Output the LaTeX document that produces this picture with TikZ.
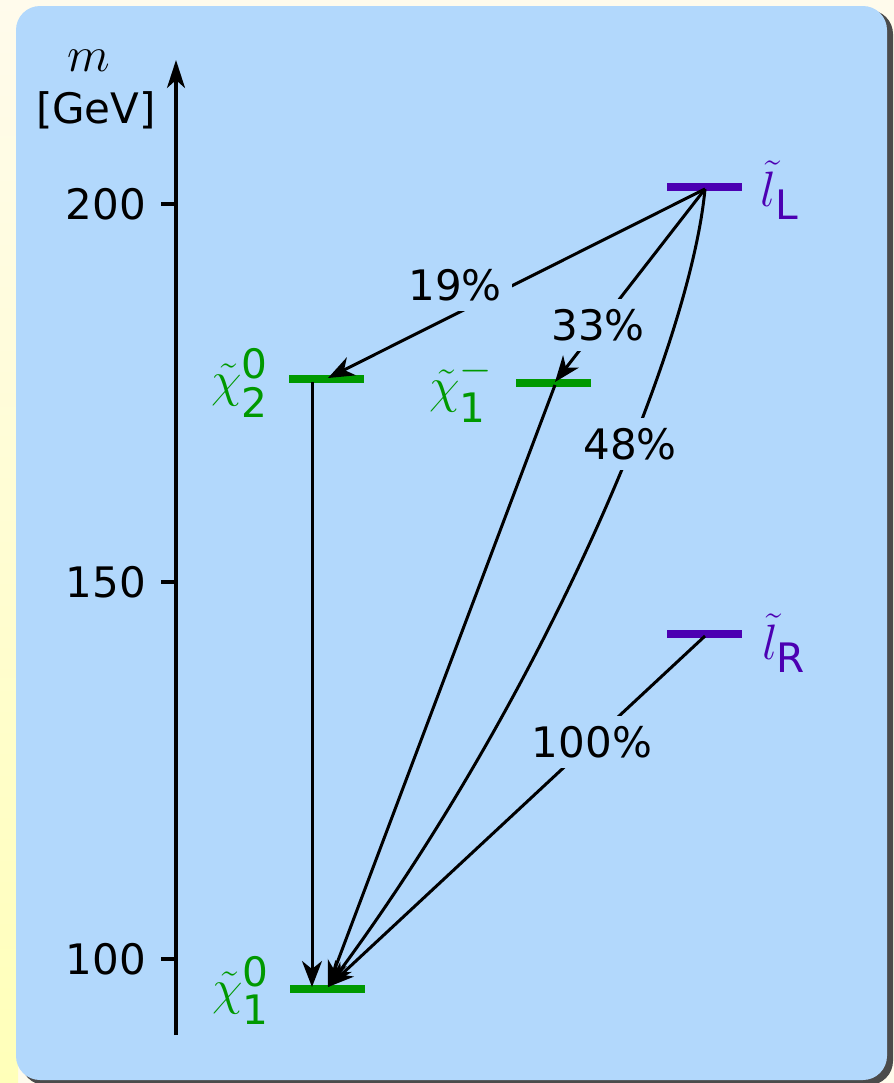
\documentclass[tikz,border=0pt]{standalone}
\usepackage{amsmath}
\usepackage{fontspec}
\setsansfont{DejaVu Sans}
\usetikzlibrary{arrows.meta}
\definecolor{bg}{RGB}{178,216,252}
\definecolor{page}{RGB}{255,251,236}
\definecolor{pageY}{RGB}{255,255,185}
\definecolor{lvgreen}{RGB}{0,153,0}
\definecolor{lvpurple}{RGB}{76,0,178}
\definecolor{shadowgray}{RGB}{75,75,75}
\begin{document}
\begin{tikzpicture}[x=0.5pt,y=-0.5pt,
  txt/.style={font=\sffamily\fontsize{21}{24}\selectfont, text=black},
  mth/.style={font=\fontsize{29}{34}\selectfont, inner sep=0pt},
  pct/.style={txt, fill=bg, inner sep=5pt},
  level/.style={line width=4.3pt},
  decay/.style={line width=1.5pt, -{Stealth[length=13pt,width=10pt,inset=4pt]}},
  axisline/.style={line width=1.6pt},
  tick/.style={line width=1.6pt},
]
\useasboundingbox (0,0) rectangle (894,1083);
\fill[page] (0,0) rectangle (894,1083);
\shade[top color=page, bottom color=pageY] (0,0) rectangle (18,1083);
\fill[shadowgray, rounded corners=12pt] (21,10) rectangle (893,1085);
\fill[bg, rounded corners=12pt] (16,6) rectangle (887,1080);

% axis
\coordinate (ax0) at (176,1035);
\coordinate (ax1) at (176,60);
\draw[axisline, -{Stealth[length=14pt,width=9pt,inset=4pt]}] (ax0) -- (ax1);
\foreach \yy/\vv in {204/200,582/150,959/100}{
  \coordinate (tk\vv a) at (161,\yy);
  \coordinate (tk\vv b) at (176,\yy);
  \draw[tick] (tk\vv a) -- (tk\vv b);
  \node[txt, anchor=east] (t\vv) at (153,\yy) {\vv};
}
\node[mth] (mlab) at (89,61) {$m$};
\node[txt] (gev) at (96,110) {[GeV]};

% levels
\coordinate (n2w) at (289,379); \coordinate (n2e) at (364,379);
\coordinate (c1w) at (516,383); \coordinate (c1e) at (591,383);
\coordinate (n1w) at (290,989); \coordinate (n1e) at (365,989);
\coordinate (lLw) at (667,187); \coordinate (lLe) at (742,187);
\coordinate (lRw) at (667,634); \coordinate (lRe) at (742,634);
\draw[level, lvgreen] (n2w) -- (n2e);
\draw[level, lvgreen] (c1w) -- (c1e);
\draw[level, lvgreen] (n1w) -- (n1e);
\draw[level, lvpurple] (lLw) -- (lLe);
\draw[level, lvpurple] (lRw) -- (lRe);

% decay end points
\coordinate (lLs) at (705,189);
\coordinate (n2t) at (328,378);
\coordinate (c1t) at (555,382);
\coordinate (c1s) at (555,385);
\coordinate (n1t) at (328,987);
\coordinate (n1v) at (312,987);
\coordinate (n2s) at (312,382);
\coordinate (lRs) at (705,636);

\draw[decay] (lLs) -- (n2t);
\draw[decay] (lLs) -- (c1t);
\draw[decay] (lLs) .. controls (690,350) and (540,700) .. (n1t);
\draw[decay] (c1s) -- (n1t);
\draw[decay] (n2s) -- (n1v);
\draw[decay] (lRs) -- (n1t);

% branching ratios
\node[pct] (p19) at (455,285) {19\%};
\node[pct] (p33) at (598,325) {33\%};
\node[pct] (p48) at (630,444) {48\%};
\node[pct] (p100) at (592,742) {100\%};

% level labels
\node[mth, text=lvgreen] (ln2) at (240,383) {$\tilde\chi^{\textsf{0}}_{\textsf{2}}$};
\node[mth, text=lvgreen] (lc1) at (461,390) {$\tilde\chi^{-}_{\textsf{1}}$};
\node[mth, text=lvgreen] (ln1) at (241,990) {$\tilde\chi^{\textsf{0}}_{\textsf{1}}$};
\node[mth, text=lvpurple] (llL) at (780,190) {$\tilde l_{\textsf{L}}$};
\node[mth, text=lvpurple] (llR) at (784,643) {$\tilde l_{\textsf{R}}$};
\end{tikzpicture}
\end{document}
